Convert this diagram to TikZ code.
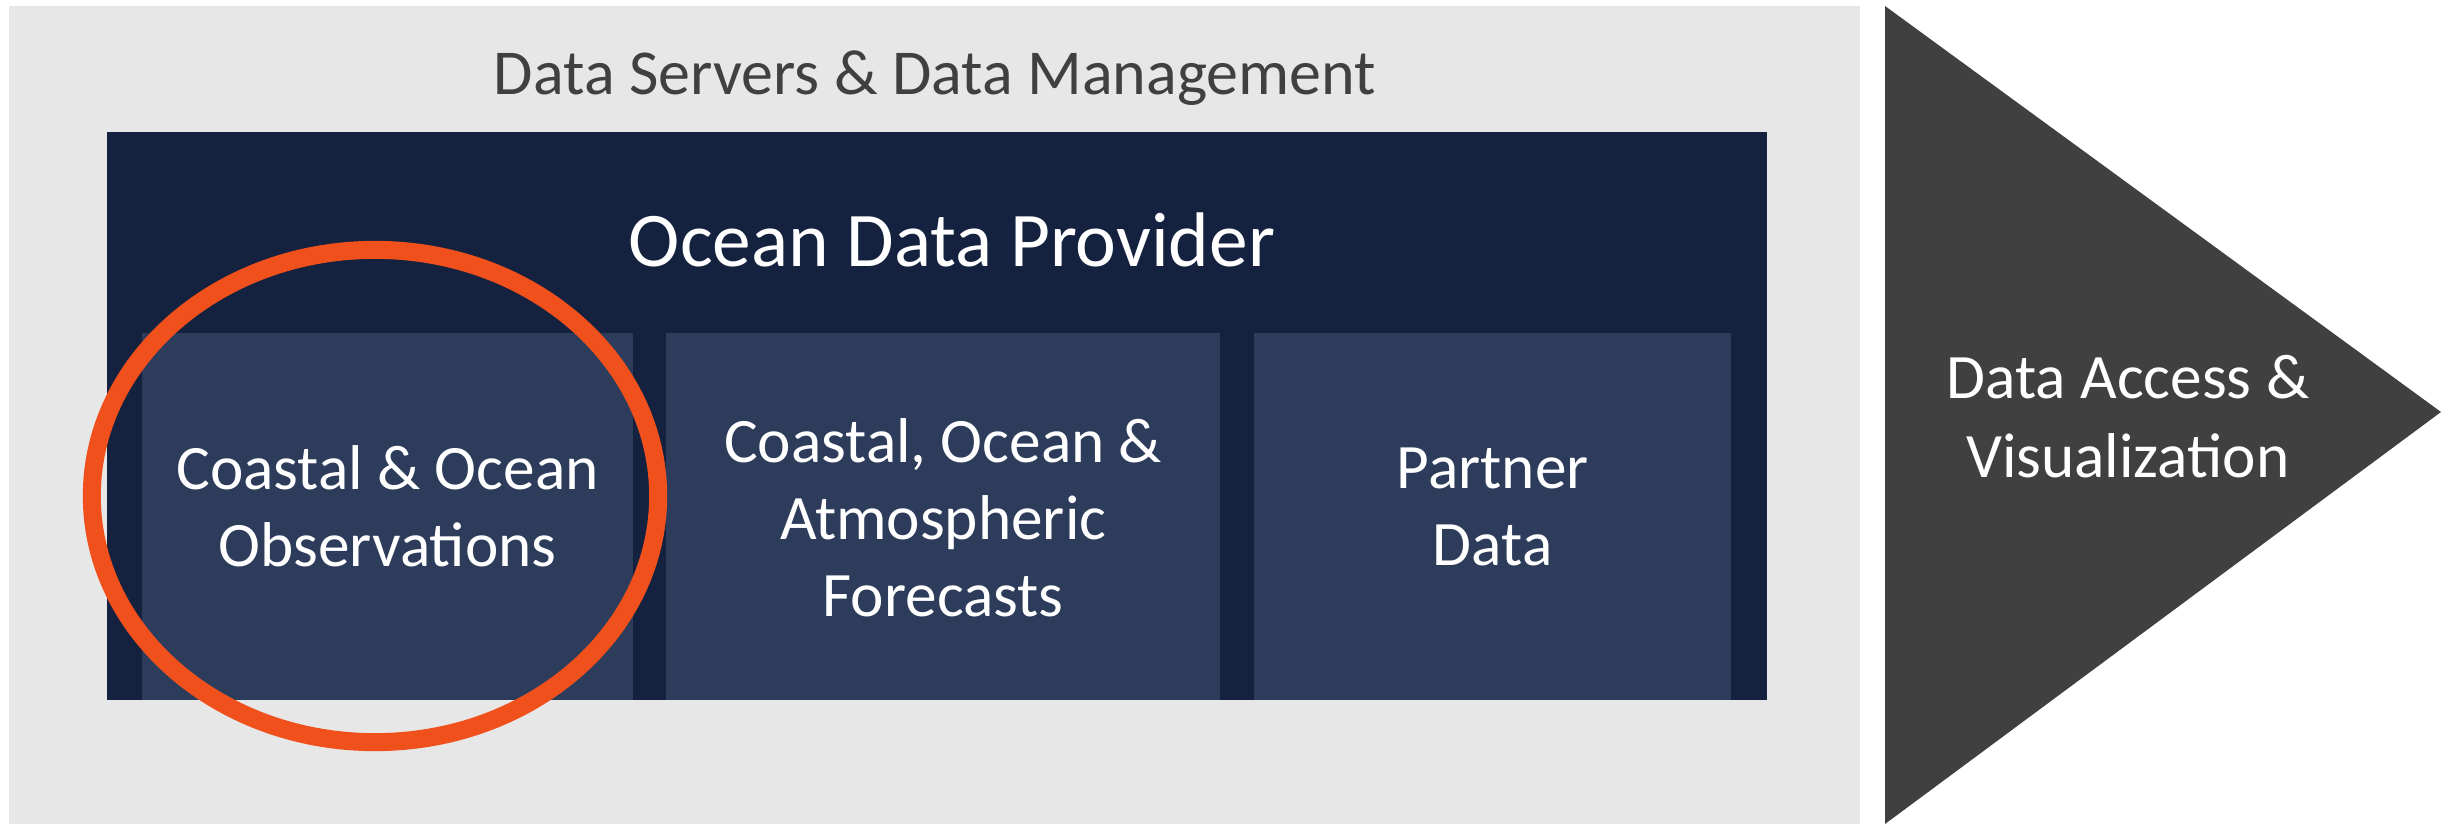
\documentclass[tikz,border=0pt]{standalone}
\usepackage{fontspec}
\setmainfont{Carlito}
\usepackage{xcolor}
\usetikzlibrary{positioning,shapes.geometric}

\definecolor{servergrey}{HTML}{E7E7E7}
\definecolor{providernavy}{HTML}{14213F}
\definecolor{sourceblue}{HTML}{2E3C5C}
\definecolor{accessgrey}{HTML}{404040}
\definecolor{focusorange}{HTML}{F0501C}

\begin{document}
\begin{tikzpicture}[x=0.01cm, y=-0.01cm,
		block/.style={inner sep=0pt, outer sep=0pt, anchor=north west},
		source/.style={block, fill=sourceblue, minimum height=3.67cm},
		boxtext/.style={text=white, align=center, font=\fontsize{18}{21.9}\selectfont}]
			\useasboundingbox (0,0) rectangle (2456,824);
			\node[block, fill=servergrey, minimum width=18.5cm, minimum height=8.18cm] (servers) at (9,6) {};
			\node[block, fill=providernavy, minimum width=16.59cm, minimum height=5.68cm] (provider) at (107,132) {};
			\node[source, minimum width=4.91cm] (obs) at (142,333) {};
			\node[source, minimum width=5.54cm] (fcst) at (666,333) {};
			\node[source, minimum width=4.77cm] (partner) at (1254,333) {};
			\node[anchor=base, text=accessgrey, font=\fontsize{18.2}{22}\selectfont] (serverslabel) at (935,94) {Data Servers \& Data Management};
			\node[anchor=base, text=white, font=\fontsize{22}{26}\selectfont] (providerlabel) at (952,266) {Ocean Data Provider};
			\node[boxtext] (obslabel) at (obs.center |- 0,506) {Coastal \& Ocean\\Observations};
			\node[boxtext] (fcstlabel) at (fcst.center |- 0,518) {Coastal, Ocean \&\\Atmospheric\\Forecasts};
			\node[boxtext] (partnerlabel) at (partner.center |- 0,507) {Partner\\Data};
			% access arrow
			\coordinate (top) at (1885,6);
			\coordinate (tip) at (2441,412);
			\coordinate (bottom) at (1885,824);
			\fill[accessgrey] (top) -- (tip) -- (bottom) -- cycle;
			\node[boxtext, font=\fontsize{18}{22.5}\selectfont] (accesslabel) at (2128,417) {Data Access \&\\Visualization};
			\node[name=focus, shape=ellipse, draw=focusorange, line width=0.18cm, minimum width=5.66cm, minimum height=4.92cm, inner sep=0pt] at (375,496) {};
		\end{tikzpicture}
\end{document}
